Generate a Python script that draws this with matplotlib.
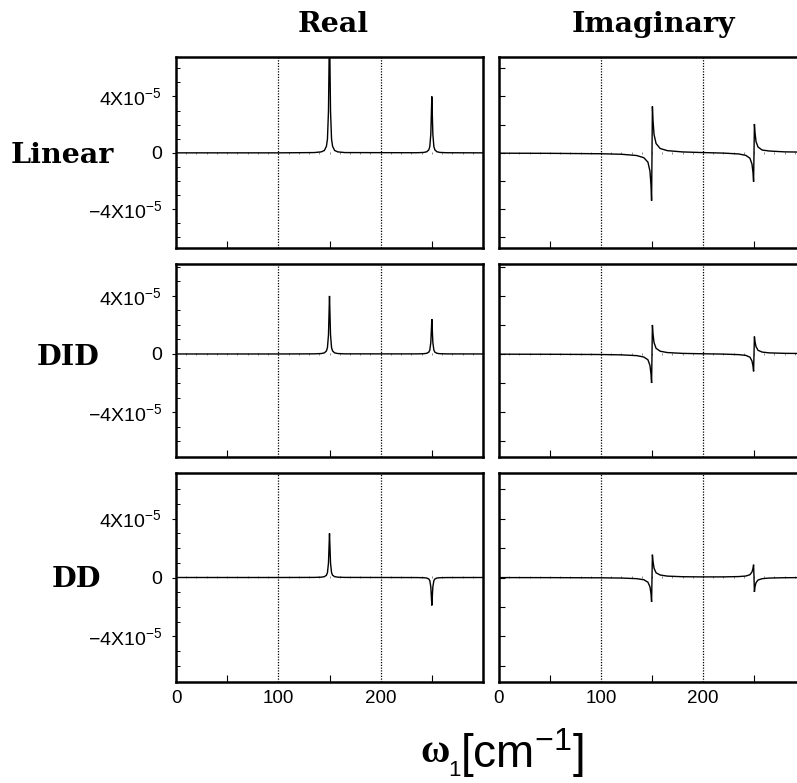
import numpy as np
import matplotlib
matplotlib.use("Agg")
import matplotlib.pyplot as plt

plt.rcParams['font.family'] = ['Liberation Sans', 'DejaVu Sans']
plt.rcParams['mathtext.fontset'] = 'custom'
plt.rcParams['mathtext.rm'] = 'Liberation Sans'
plt.rcParams['mathtext.it'] = 'Liberation Sans:italic'
plt.rcParams['mathtext.bf'] = 'Liberation Sans:bold'

rows = ['Linear', 'DID', 'DD']
columns = ['Real', 'Imaginary']

# omega_1 sample points (cm^-1), absorptive (real) traces
w_real = [0, 100,
          135, 142, 145, 147, 148, 149, 149.5, 150, 150.5, 151, 152, 153, 155, 158, 165,
          235, 242, 245, 247, 248, 249, 249.5, 250, 250.5, 251, 252, 253, 255, 258, 265,
          300]

# signal in units of 1e-5
real_linear = [0, 0,
               0.02, 0.07, 0.17, 0.47, 0.98, 2.96, 5.96, 9.0, 5.96, 2.96, 0.98, 0.47, 0.17, 0.07, 0.02,
               0.008, 0.03, 0.076, 0.21, 0.44, 1.32, 2.65, 4.0, 2.65, 1.32, 0.44, 0.21, 0.076, 0.03, 0.008,
               0]
real_did = [0, 0,
            0.008, 0.03, 0.076, 0.21, 0.44, 1.32, 2.65, 4.0, 2.65, 1.32, 0.44, 0.21, 0.076, 0.03, 0.008,
            0.005, 0.018, 0.046, 0.125, 0.26, 0.79, 1.59, 2.4, 1.59, 0.79, 0.26, 0.125, 0.046, 0.018, 0.005,
            0]
real_dd = [0, 0,
           0.006, 0.023, 0.057, 0.156, 0.33, 0.99, 1.99, 3.0, 1.99, 0.99, 0.33, 0.156, 0.057, 0.023, 0.006,
           -0.004, -0.014, -0.036, -0.099, -0.21, -0.63, -1.26, -1.9, -1.26, -0.63, -0.21, -0.099, -0.036, -0.014, -0.004,
           0]

# omega_1 sample points (cm^-1), dispersive (imaginary) traces
w_imag = [0, 50, 100, 120, 135, 142, 146, 148, 149, 149.6,
          150, 150.4, 151, 152, 154, 158, 165, 180, 200, 220,
          235, 242, 246, 248, 249, 249.6, 250, 250.4, 251, 252,
          254, 258, 265, 280, 300]

imag_linear = [-0.024, -0.034, -0.064, -0.10, -0.19, -0.345, -0.66, -1.3, -2.28, -3.4,
               0, 3.3, 2.3, 1.3, 0.66, 0.31, 0.157, 0.065, 0.02, -0.017,
               -0.078, -0.18, -0.38, -0.79, -1.39, -2.05, 0, 2.05, 1.44, 0.79,
               0.41, 0.2, 0.13, 0.07, 0.05]
imag_did = [-0.015, -0.021, -0.038, -0.061, -0.115, -0.21, -0.4, -0.79, -1.38, -2.0,
            0, 2.0, 1.38, 0.78, 0.39, 0.19, 0.097, 0.04, 0.013, -0.009,
            -0.045, -0.10, -0.22, -0.48, -0.83, -1.2, 0, 1.2, 0.85, 0.5,
            0.25, 0.13, 0.075, 0.044, 0.03]
imag_dd = [-0.006, -0.009, -0.021, -0.037, -0.079, -0.153, -0.32, -0.63, -1.1, -1.65,
           0, 1.55, 1.1, 0.63, 0.32, 0.17, 0.094, 0.053, 0.04, 0.042,
           0.063, 0.10, 0.19, 0.37, 0.62, 0.87, 0, -0.98, -0.62, -0.35,
           -0.17, -0.08, -0.037, -0.014, -0.006]

traces = [[(w_real, real_linear), (w_imag, imag_linear)],
          [(w_real, real_did), (w_imag, imag_did)],
          [(w_real, real_dd), (w_imag, imag_dd)]]

ytick_vals = [-4, 0, 4]
ytick_labels = ['\u22124X10$^{-5}$', '0', '4X10$^{-5}$']
xtick_vals = [0, 100, 200]

W, H = 797, 783
fig = plt.figure(figsize=(W / 100, H / 100), dpi=100)

# panel geometry in pixels: (top, bottom) per row, (left, right) per column
row_px = [(57, 248), (264, 457), (473, 682)]
col_px = [(176, 483), (499, 805)]
row_ylim = [(-6.75, 6.8), (-7.1, 6.2), (-7.1, 7.1)]

for r, (top, bot) in enumerate(row_px):
    for c, (lft, rgt) in enumerate(col_px):
        ax = fig.add_axes([lft / W, 1 - bot / H, (rgt - lft) / W, (bot - top) / H])
        x, y = traces[r][c]
        ax.plot(x, y, color='black', lw=1.0, solid_joinstyle='miter')
        ax.set_xlim(0, 300)
        ax.set_ylim(*row_ylim[r])
        for v in (100, 200):
            ax.axvline(v, color='black', lw=0.9, ls=(0, (1, 1.2)))
        for s in ax.spines.values():
            s.set_linewidth(1.8)

        # x ticks
        ax.set_xticks(xtick_vals)
        ax.set_xticks([50, 150, 250], minor=True)
        ax.tick_params(axis='x', which='major', length=0, pad=6, labelsize=13.5)
        ax.tick_params(axis='x', which='minor', direction='in', length=5, width=0.8)
        if r < 2:
            ax.set_xticklabels([])

        # y ticks
        if c == 0:
            ax.set_yticks(ytick_vals)
            ax.set_yticklabels(ytick_labels)
            ax.set_yticks(np.arange(-6, 7, 1), minor=True)
            ax.tick_params(axis='y', which='major', direction='out', length=3, width=0.8,
                           pad=7, labelsize=14)
            ax.tick_params(axis='y', which='minor', direction='in', length=3, width=0.7)
        else:
            ax.set_yticks([])
            ax.set_yticks([-6, -4, -2, 0, 2, 4, 6], minor=True)
            ax.tick_params(axis='y', which='minor', direction='in', length=4, width=0.8)

        # faint ticks along the zero line
        ymin, ymax = row_ylim[r]
        sec = ax.secondary_xaxis((0 - ymin) / (ymax - ymin))
        for s in sec.spines.values():
            s.set_visible(False)
        sec.set_xticks(np.arange(10, 300, 10))
        sec.set_xticklabels([])
        sec.tick_params(direction='inout', length=1.8, width=0.5, color='0.35')

# column and row titles
title_font = dict(family='DejaVu Serif', weight='bold', size=20.5)
fig.text(333 / W, 1 - 32 / H, columns[0], ha='center', va='baseline', **title_font)
fig.text(653 / W, 1 - 32 / H, columns[1], ha='center', va='baseline', **title_font)
row_x = [62, 68, 76]
row_y = [163, 365, 587]
for name, xp, yp in zip(rows, row_x, row_y):
    fig.text(xp / W, 1 - yp / H, name, ha='center', va='baseline', **title_font)

# x axis label
fig.text(420 / W, 1 - 762 / H, '\u03c9', family='Liberation Serif', weight='bold', size=29,
         ha='left', va='baseline')
fig.text(448 / W, 1 - 776 / H, '1', size=16, ha='left', va='baseline')
fig.text(460 / W, 1 - 768 / H, '[cm$^{-1}$]', size=33, ha='left', va='baseline')

fig.savefig('out.png', dpi=100)
